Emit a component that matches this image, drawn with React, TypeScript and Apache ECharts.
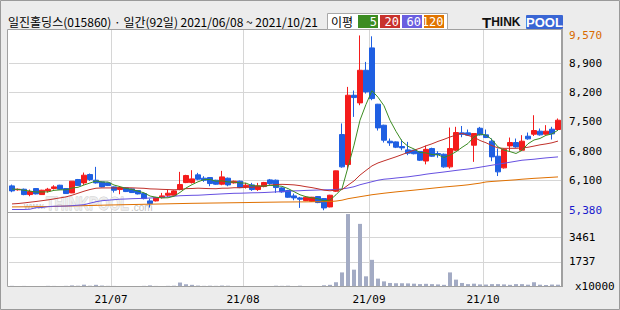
import React, { useEffect, useRef } from "react";
import * as echarts from "echarts";

// ---- categories (trading days 2021/06/08 ~ 2021/10/21) ----
const junDays = [8, 9, 10, 11, 14, 15, 16, 17, 18, 21, 22, 23, 24, 25, 28, 29, 30];
const julDays = [1, 2, 5, 6, 7, 8, 9, 12, 13, 14, 15, 16, 19, 20, 21, 22, 23, 26, 27, 28, 29, 30];
const augDays = [2, 3, 4, 5, 6, 9, 10, 11, 12, 13, 17, 18, 19, 20, 23, 24, 25, 26, 27, 30, 31];
const sepDays = [1, 2, 3, 6, 7, 8, 9, 10, 13, 14, 15, 16, 17, 23, 24, 27, 28, 29, 30];
const octDays = [1, 5, 6, 7, 8, 12, 13, 14, 15, 18, 19, 20, 21];
const pad = (n: number) => (n < 10 ? "0" + n : "" + n);
const dates: string[] = [
  ...junDays.map((d) => "2021-06-" + pad(d)),
  ...julDays.map((d) => "2021-07-" + pad(d)),
  ...augDays.map((d) => "2021-08-" + pad(d)),
  ...sepDays.map((d) => "2021-09-" + pad(d)),
  ...octDays.map((d) => "2021-10-" + pad(d)),
];

// ---- prices ----
const opens = [5964, 5870, 5884, 5756, 5900, 5756, 5844, 5900, 5980, 5900,
  5796, 6116, 6036, 6236, 6100, 6060, 6036, 5940, 5876, 5916,
  5892, 5852, 5780, 5604, 5604, 5684, 5740, 5740, 5876, 6044,
  6044, 6228, 6148, 6164, 6100, 6004, 6148, 6036, 6076, 5940,
  5988, 5876, 5948, 6108, 6100, 5916, 5852, 5724, 5676, 5612,
  5596, 5708, 5660, 5460, 5836, 7195, 6476, 8137, 7954, 8736,
  9272, 7922, 7418, 7035, 7019, 6907, 6827, 6819, 6790, 6560,
  6859, 6739, 6723, 6420, 6819, 7235, 7235, 6939, 7346, 7187,
  7035, 6675, 6396, 6923, 7003, 6819, 7155, 7203, 7275, 7203,
  7323, 7315];
const closes = [5844, 5884, 5756, 5828, 5772, 5860, 5884, 5940, 5884, 5780,
  6076, 5972, 6220, 6116, 6036, 5940, 5972, 5860, 5924, 5828,
  5804, 5772, 5660, 5540, 5684, 5724, 5788, 5844, 5996, 6212,
  6132, 6124, 6100, 6020, 6004, 6180, 5988, 6076, 5924, 5980,
  5876, 5964, 6044, 6020, 5924, 5820, 5692, 5676, 5644, 5692,
  5692, 5564, 5436, 5740, 6324, 6420, 8137, 8081, 8736, 8217,
  8057, 7354, 7059, 6995, 6891, 6875, 6747, 6735, 6579, 6840,
  6675, 6715, 6420, 6859, 7243, 7200, 7180, 7219, 7187, 7123,
  6659, 6300, 6843, 7003, 6899, 7035, 7091, 7291, 7187, 7275,
  7211, 7538];
const lows = [5812, 5850, 5740, 5716, 5760, 5750, 5804, 5876, 5870, 5770,
  5790, 5960, 5988, 6084, 6020, 5930, 5960, 5804, 5764, 5816,
  5796, 5760, 5640, 5444, 5590, 5660, 5700, 5730, 5860, 6030,
  6020, 6100, 6060, 5956, 5990, 5980, 5956, 6020, 5910, 5900,
  5844, 5844, 5930, 5990, 5796, 5800, 5680, 5620, 5436, 5600,
  5580, 5550, 5380, 5450, 5820, 6400, 6364, 7618, 7898, 8177,
  8017, 7290, 7003, 6923, 6870, 6819, 6700, 6720, 6560, 6480,
  6660, 6640, 6400, 6380, 6800, 7130, 7170, 6540, 7170, 7110,
  6555, 6200, 6380, 6803, 6880, 6800, 7070, 7160, 7170, 7190,
  7075, 7290];
const highs = [5996, 5900, 5900, 5876, 5910, 5870, 5916, 5980, 5990, 5910,
  6080, 6130, 6284, 6260, 6420, 6070, 6044, 5950, 5930, 5924,
  5900, 5860, 5800, 5660, 5700, 5796, 5876, 5860, 6300, 6230,
  6340, 6276, 6196, 6170, 6110, 6324, 6164, 6090, 6090, 6036,
  6036, 6036, 6060, 6130, 6116, 5930, 5870, 5780, 5700, 5710,
  5700, 5720, 5670, 5750, 6330, 7460, 8337, 8250, 9570, 8936,
  9550, 7930, 7430, 7099, 7030, 7075, 7019, 6830, 6800, 6930,
  6880, 6795, 6740, 7362, 7380, 7400, 7315, 7219, 7378, 7315,
  7099, 6859, 6859, 7123, 7099, 7180, 7243, 7658, 7340, 7420,
  7380, 7580];

// ---- volume (x10000) ----
const volumes = [80, 70, 75, 70, 65, 70, 80, 75, 70, 80,
  110, 90, 160, 90, 150, 100, 80, 75, 70, 65,
  70, 70, 80, 110, 75, 70, 80, 90, 310, 190,
  150, 100, 80, 90, 80, 100, 90, 60, 70, 60,
  70, 60, 70, 70, 90, 80, 90, 70, 90, 60,
  60, 70, 120, 150, 330, 1010, 5050, 1200, 4370, 740,
  1880, 580, 390, 280, 260, 260, 250, 230, 200, 220,
  200, 180, 150, 1010, 510, 280, 200, 230, 180, 170,
  200, 200, 180, 150, 200, 200, 160, 330, 160, 140,
  170, 160];

// ---- moving averages (values before the window) ----
const ma5Head = [5890, 5880, 5860, 5840];
const ma20Head = [5532, 5541, 5556, 5573, 5590, 5609, 5628, 5652, 5676, 5700,
  5740, 5788, 5836, 5877, 5908, 5915, 5915, 5915, 5915];
const ma60 = [5398, 5398, 5398, 5405, 5441, 5446, 5465, 5477, 5477, 5481,
  5489, 5501, 5513, 5549, 5585, 5609, 5621, 5633, 5645, 5650,
  5657, 5661, 5666, 5673, 5681, 5688, 5702, 5716, 5728, 5733,
  5738, 5740, 5748, 5757, 5764, 5772, 5779, 5786, 5788, 5793,
  5798, 5800, 5805, 5812, 5820, 5827, 5836, 5844, 5848, 5856,
  5860, 5865, 5870, 5872, 5879, 5891, 5913, 5944, 5992, 6028,
  6064, 6100, 6124, 6136, 6153, 6167, 6181, 6201, 6220, 6244,
  6263, 6280, 6297, 6316, 6335, 6352, 6368, 6388, 6412, 6436,
  6460, 6484, 6507, 6531, 6555, 6579, 6591, 6603, 6620, 6635,
  6647, 6659];
const ma120 = [5460, 5461, 5462, 5463, 5465, 5466, 5468, 5470, 5477, 5480,
  5483, 5487, 5490, 5494, 5497, 5501, 5505, 5508, 5511, 5514,
  5517, 5520, 5523, 5525, 5528, 5531, 5534, 5537, 5540, 5543,
  5546, 5548, 5550, 5552, 5554, 5556, 5558, 5560, 5562, 5564,
  5567, 5569, 5571, 5573, 5575, 5577, 5578, 5579, 5580, 5581,
  5583, 5585, 5587, 5589, 5600, 5621, 5657, 5681, 5705, 5728,
  5752, 5770, 5788, 5804, 5820, 5834, 5848, 5862, 5877, 5892,
  5907, 5922, 5937, 5950, 5962, 5975, 5990, 6010, 6030, 6058,
  6070, 6080, 6090, 6100, 6110, 6124, 6134, 6145, 6153, 6162,
  6170, 6179];

// ---- axis labels ----
const priceTicks = [6100, 6800, 7500, 8200, 8900];
const maxPrice = 9570;
const minPrice = 5380;
const volumeTicks = [1737, 3461];

const movingAverage = (vals: number[], n: number, head: number[]) =>
  vals.map((_, i) => {
    if (i < n - 1) return head[i];
    let s = 0;
    for (let k = i - n + 1; k <= i; k++) s += vals[k];
    return Math.round(s / n);
  });

const ma5 = movingAverage(closes, 5, ma5Head);
const ma20 = movingAverage(closes, 20, ma20Head);

const monthStarts = dates
  .map((d, i) => (i > 0 && d.slice(5, 7) !== dates[i - 1].slice(5, 7) ? i : -1))
  .filter((i) => i >= 0);
const isMonthStart = (i: number) => monthStarts.indexOf(i) >= 0;

const fmt = (v: number) => Number(v).toLocaleString("en-US");

const MONO = "DejaVu Sans Mono";
const GRID_COLOR = "#d6d6d6";
const FRAME = "#a0a0a0";
const CLEAR = "rgba(0,0,0,0)";

function buildOption(): any {
  const candleData = dates.map((_, i) => [opens[i], closes[i], lows[i], highs[i]]);
  const maLine = (data: number[], color: string) => ({
    type: "line",
    xAxisIndex: 0,
    yAxisIndex: 0,
    data,
    symbol: "none",
    showSymbol: false,
    silent: true,
    z: 4,
    lineStyle: { color, width: 1 },
  });
  return {
    animation: false,
    backgroundColor: "#ececec",
    textStyle: { fontFamily: MONO },
    grid: [
      { left: 9, width: 552, top: 30, height: 182 },
      { left: 9, width: 552, top: 212, height: 75 },
    ],
    xAxis: [
      {
        type: "category",
        gridIndex: 0,
        data: dates,
        boundaryGap: true,
        axisLine: { show: false },
        axisTick: { show: false },
        axisLabel: { show: false },
        splitLine: {
          show: true,
          interval: (i: number) => isMonthStart(i),
          lineStyle: { color: GRID_COLOR, width: 1 },
        },
      },
      {
        type: "category",
        gridIndex: 1,
        data: dates,
        boundaryGap: true,
        axisLine: { show: false },
        axisTick: { show: false },
        axisLabel: {
          show: true,
          interval: (i: number) => isMonthStart(i),
          formatter: (v: string) => v.slice(2, 4) + "/" + v.slice(5, 7),
          color: "#000",
          fontSize: 11,
          fontFamily: MONO,
          margin: 7,
          padding: [0, 6, 0, 0],
        },
        splitLine: {
          show: true,
          interval: (i: number) => isMonthStart(i),
          lineStyle: { color: GRID_COLOR, width: 1 },
        },
      },
    ],
    yAxis: [
      { type: "value", gridIndex: 0, min: 5338, max: 9701, show: false, splitLine: { show: false } },
      { type: "value", gridIndex: 1, min: 0, max: 5192, show: false, splitLine: { show: false } },
    ],
    series: [
      {
        type: "line",
        xAxisIndex: 0,
        yAxisIndex: 0,
        data: [],
        silent: true,
        z: 1,
        markLine: {
          silent: true,
          z: 1,
          symbol: "none",
          animation: false,
          lineStyle: { color: GRID_COLOR, type: "solid", width: 1 },
          label: {
            position: "end",
            distance: 8,
            color: "#000",
            fontSize: 11,
            fontFamily: MONO,
            formatter: (p: any) => fmt(p.value),
          },
          emphasis: { disabled: true },
          data: [
            ...priceTicks.map((v) => ({ yAxis: v })),
            { yAxis: maxPrice, lineStyle: { color: CLEAR }, label: { color: "#d86a00", padding: [5, 0, 0, 0] } },
            { yAxis: minPrice, lineStyle: { color: CLEAR }, label: { color: "#1a1acc", padding: [0, 0, 6, 0] } },
          ],
        },
      },
      {
        type: "line",
        xAxisIndex: 1,
        yAxisIndex: 1,
        data: [],
        silent: true,
        z: 1,
        markLine: {
          silent: true,
          z: 1,
          symbol: "none",
          animation: false,
          lineStyle: { color: GRID_COLOR, type: "solid", width: 1 },
          label: {
            position: "end",
            distance: 8,
            color: "#000",
            fontSize: 11,
            fontFamily: MONO,
            formatter: (p: any) => String(p.value),
          },
          emphasis: { disabled: true },
          data: volumeTicks.map((v) => ({ yAxis: v })),
        },
      },
      {
        type: "candlestick",
        xAxisIndex: 0,
        yAxisIndex: 0,
        data: candleData,
        barWidth: 5,
        silent: true,
        z: 3,
        itemStyle: {
          color: "#f41c1c",
          color0: "#1f5fe2",
          borderColor: "#f41c1c",
          borderColor0: "#1f5fe2",
          borderWidth: 1,
        },
      },
      maLine(ma120, "#df7000"),
      maLine(ma60, "#6650e0"),
      maLine(ma20, "#c0302a"),
      maLine(ma5, "#3c8c22"),
      {
        type: "bar",
        xAxisIndex: 1,
        yAxisIndex: 1,
        data: volumes,
        barWidth: 4,
        silent: true,
        z: 3,
        itemStyle: { color: "#a3abc4" },
      },
    ],
    graphic: [
      { type: "rect", z: -1, silent: true, shape: { x: 7, y: 29, width: 555, height: 258 }, style: { fill: "#ffffff" } },
      // watermark
      { type: "text", z: 1, silent: true, style: { text: "www.", x: 24, y: 206, fontSize: 9, fontFamily: "Liberation Sans", fill: "#c4c4c4", verticalAlign: "middle" } },
      { type: "text", z: 1, silent: true, x: 46, y: 204, scaleX: 0.74, style: { text: "THINKPOOL", x: 0, y: 0, fontSize: 19, fontWeight: "bold", fontFamily: "Liberation Sans", fill: "#eeeeee", stroke: "#c6c6c6", lineWidth: 1, verticalAlign: "middle", opacity: 0.9 } },
      { type: "text", z: 1, silent: true, style: { text: ".com", x: 131, y: 207, fontSize: 10, fontFamily: "Liberation Sans", fill: "#c4c4c4", verticalAlign: "middle" } },
      // frames
      { type: "rect", z: 20, silent: true, shape: { x: 7.5, y: 29.5, width: 554, height: 257 }, style: { fill: "none", stroke: FRAME, lineWidth: 1 } },
      { type: "line", z: 20, silent: true, shape: { x1: 562, y1: 29, x2: 562, y2: 287 }, style: { stroke: FRAME, lineWidth: 2 } },
      { type: "line", z: 20, silent: true, shape: { x1: 7, y1: 212.5, x2: 562, y2: 212.5 }, style: { stroke: FRAME, lineWidth: 1 } },
      { type: "rect", z: 20, silent: true, shape: { x: 0.5, y: 0.5, width: 619, height: 309 }, style: { fill: "none", stroke: "#9a9a9a", lineWidth: 1 } },
      // title
      { type: "text", z: 20, silent: true, style: { text: "일진홀딩스(015860) · 일간(92일) 2021/06/08 ~ 2021/10/21", x: 8, y: 21, fontSize: 12, fontFamily: "Noto Sans CJK KR", fill: "#000", verticalAlign: "middle" } },
      // MA legend
      { type: "rect", z: 20, silent: true, shape: { x: 327.5, y: 13.5, width: 120, height: 16 }, style: { fill: "#ffffff", stroke: "#a8a8a8", lineWidth: 1 } },
      { type: "text", z: 21, silent: true, style: { text: "이평", x: 331, y: 21.5, fontSize: 12, fontFamily: "Noto Sans CJK KR", fill: "#000", verticalAlign: "middle" } },
      { type: "rect", z: 21, silent: true, shape: { x: 358, y: 15, width: 20, height: 13 }, style: { fill: "#3c8c22" } },
      { type: "rect", z: 21, silent: true, shape: { x: 380, y: 15, width: 20, height: 13 }, style: { fill: "#c8322c" } },
      { type: "rect", z: 21, silent: true, shape: { x: 402, y: 15, width: 20, height: 13 }, style: { fill: "#6a5ee0" } },
      { type: "rect", z: 21, silent: true, shape: { x: 424, y: 15, width: 20, height: 13 }, style: { fill: "#e07400" } },
      { type: "text", z: 22, silent: true, style: { text: "5", x: 377, y: 21.5, fontSize: 12, fontFamily: MONO, fill: "#fff", align: "right", verticalAlign: "middle" } },
      { type: "text", z: 22, silent: true, style: { text: "20", x: 399, y: 21.5, fontSize: 12, fontFamily: MONO, fill: "#fff", align: "right", verticalAlign: "middle" } },
      { type: "text", z: 22, silent: true, style: { text: "60", x: 421, y: 21.5, fontSize: 12, fontFamily: MONO, fill: "#fff", align: "right", verticalAlign: "middle" } },
      { type: "text", z: 22, silent: true, style: { text: "120", x: 443.5, y: 21.5, fontSize: 12, fontFamily: MONO, fill: "#fff", align: "right", verticalAlign: "middle" } },
      // logo
      {
        type: "text", z: 20, silent: true,
        style: {
          text: "{a|T}{b|HINK}", x: 482, y: 22, verticalAlign: "middle",
          rich: {
            a: { fontSize: 15, fontWeight: "bold", fontFamily: "Liberation Sans", fill: "#111" },
            b: { fontSize: 12, fontWeight: "bold", fontFamily: "Liberation Sans", fill: "#111" },
          },
        },
      },
      { type: "rect", z: 20, silent: true, shape: { x: 526, y: 15, width: 37, height: 14, r: 1 }, style: { fill: "#3a66d4" } },
      { type: "text", z: 21, silent: true, style: { text: "POOL", x: 544.5, y: 22.5, fontSize: 13, fontWeight: "bold", fontFamily: "Liberation Sans", fill: "#ffffff", align: "center", verticalAlign: "middle" } },
      { type: "text", z: 21, silent: true, style: { text: "x10000", x: 575, y: 286, fontSize: 11, fontFamily: MONO, fill: "#000", verticalAlign: "middle" } },
    ],
  };
}

export default function App() {
  const ref = useRef<HTMLDivElement>(null);
  useEffect(() => {
    if (!ref.current) return;
    const chart = echarts.init(ref.current, null, { renderer: "svg" });
    chart.setOption(buildOption());
    return () => chart.dispose();
  }, []);
  return <div ref={ref} style={{ position: "fixed", left: 0, top: 0, width: 620, height: 310 }} />;
}
